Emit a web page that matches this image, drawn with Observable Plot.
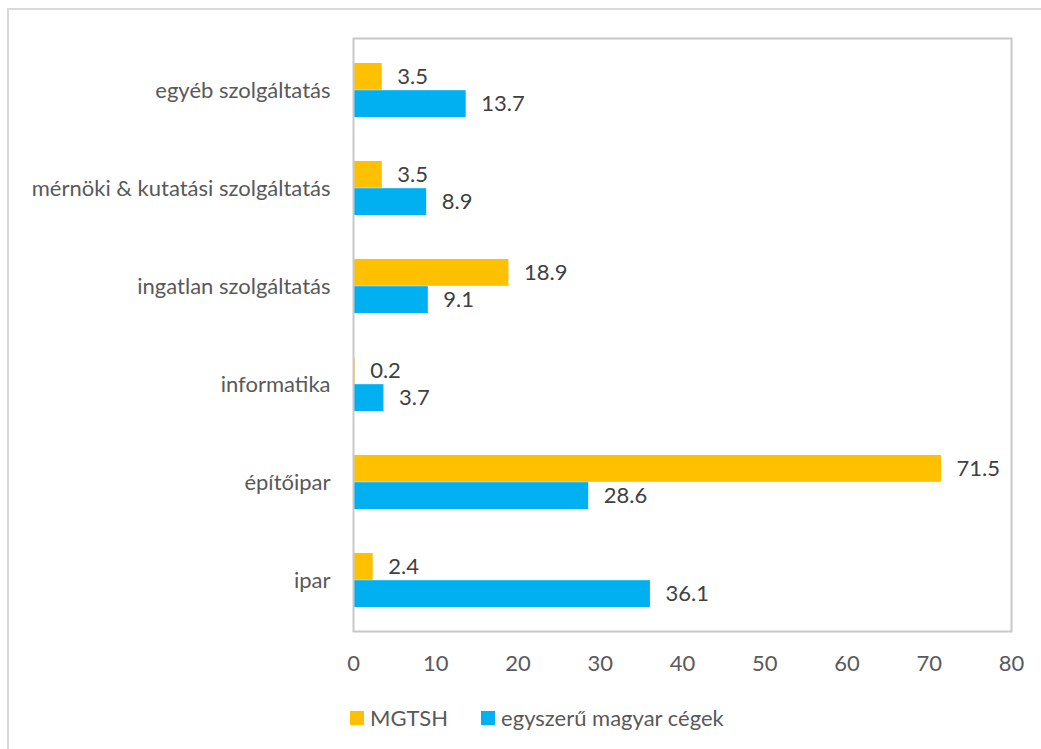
<!DOCTYPE html>
<html><head><meta charset="utf-8">
<script src="https://cdn.jsdelivr.net/npm/d3@7"></script>
<script src="https://cdn.jsdelivr.net/npm/@observablehq/plot@0.6"></script>
<style>
body{margin:0;background:#fff;font-family:Lato,"Open Sans",sans-serif;}
#border{position:absolute;left:7px;top:8px;width:1100px;height:800px;border:2px solid #D9D9D9;box-sizing:border-box;}
#chart{position:absolute;left:0;top:0;}
#legend{position:absolute;top:704px;left:350px;display:flex;align-items:center;font-size:22px;color:#595959;line-height:28px;}
.item{display:flex;align-items:center;margin-right:33px;}
.sw{width:14px;height:14px;margin-right:6px;}
</style></head>
<body>
<div id="border"></div>
<div id="chart"></div>
<div id="legend"></div>
<script>
const categories = ["egyéb szolgáltatás","mérnöki & kutatási szolgáltatás","ingatlan szolgáltatás","informatika","építőipar","ipar"];
const seriesNames = ["MGTSH","egyszerű magyar cégek"];
const mgtsh = [3.5,3.5,18.9,0.2,71.5,2.4];
const egyszeru = [13.7,8.9,9.1,3.7,28.6,36.1];
const xTicks = [0,10,20,30,40,50,60,70,80];
const colors = ["#FFC000","#00B0F0"];

const rows = [];
categories.forEach((c,i)=>{
  rows.push({cat:c, series:seriesNames[0], value:mgtsh[i]});
  rows.push({cat:c, series:seriesNames[1], value:egyszeru[i]});
});

const width = 1041, height = 680;
const marginTop = 38, marginBottom = 49, marginLeft = 353, marginRight = 30;
const padInner = 0.45, padOuter = 0.225;
const plotH = height - marginTop - marginBottom;
const step = plotH / categories.length;
const bw = step * (1 - padInner);

const first = rows.filter(d=>d.series===seriesNames[0]);
const second = rows.filter(d=>d.series===seriesNames[1]);

const chart = Plot.plot({
  width, height, marginTop, marginBottom, marginLeft, marginRight,
  style:{fontFamily:"Lato, 'Open Sans', sans-serif", fontSize:"22px", background:"transparent"},
  x:{domain:[0,80]},
  y:{domain:categories, paddingInner:padInner, paddingOuter:padOuter},
  color:{domain:seriesNames, range:colors},
  marks:[
    Plot.barX(first,{x:"value", y:"cat", fill:"series", insetBottom:bw/2}),
    Plot.barX(second,{x:"value", y:"cat", fill:"series", insetTop:bw/2}),
    Plot.frame({stroke:"#C8C8C8", strokeWidth:2}),
    Plot.text(first,{x:"value", y:"cat", text:d=>d.value.toFixed(1), dy:-bw/4, dx:15, textAnchor:"start", fill:"#404040", fontSize:22}),
    Plot.text(second,{x:"value", y:"cat", text:d=>d.value.toFixed(1), dy:bw/4, dx:15, textAnchor:"start", fill:"#404040", fontSize:22}),
    Plot.axisX({ticks:xTicks, tickSize:0, tickPadding:24, fill:"#595959", fontSize:22, label:null}),
    Plot.axisY({tickSize:0, tickPadding:23, fill:"#595959", fontSize:22, label:null})
  ]
});
document.getElementById("chart").appendChild(chart);

const legend = document.getElementById("legend");
seriesNames.forEach((s,i)=>{
  const it = document.createElement("div"); it.className="item";
  const sw = document.createElement("div"); sw.className="sw"; sw.style.background=colors[i];
  const t = document.createElement("span"); t.textContent=s;
  it.appendChild(sw); it.appendChild(t); legend.appendChild(it);
});
</script>
</body></html>
